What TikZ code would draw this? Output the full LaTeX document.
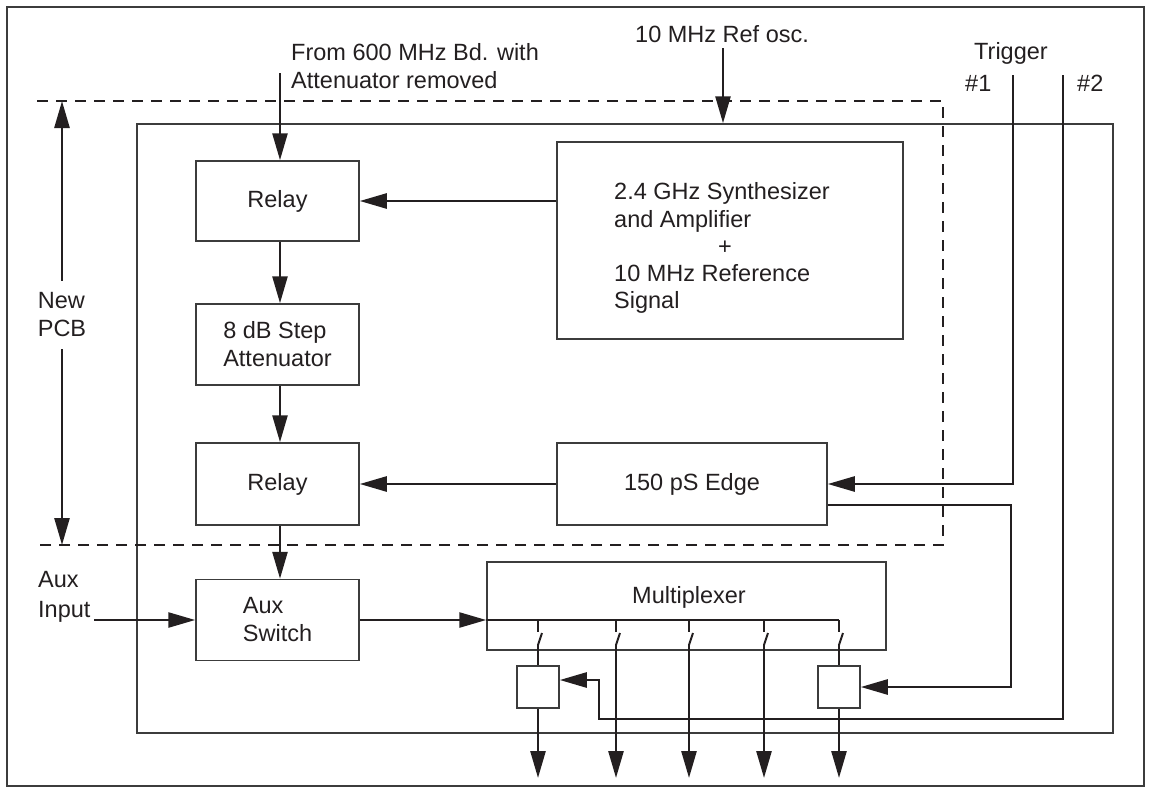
\documentclass[tikz,border=0pt]{standalone}
\usepackage{fontspec}
\setmainfont{Liberation Sans}
\usetikzlibrary{arrows.meta}
\definecolor{ink}{HTML}{231F20}
\definecolor{boxc}{HTML}{3C3C3C}
\begin{document}
\begin{tikzpicture}[x=1pt,y=-1pt,
  every node/.style={font=\fontsize{23.5}{28}\selectfont, text=ink},
  blk/.style={draw=boxc, line width=1.5pt, fill=white, inner sep=0pt, align=left},
  frame/.style={draw=boxc, line width=1.5pt},
  wire/.style={draw=ink, line width=2.6pt},
  arr/.style={wire, -{Triangle[length=27pt,width=15pt]}},
  txt/.style={inner sep=0pt, anchor=base west},
  dashline/.style={draw=ink, line width=1.5pt, dash pattern=on 11pt off 8pt}
]
\useasboundingbox (0,0) rectangle (1151,793);
% outer frame
\draw[frame] (7,7) rectangle (1144,786);
% board
\node[frame, inner sep=0pt, minimum width=976pt, minimum height=609pt] (board) at (625,428.5) {};
% dashed new PCB region
\draw[dashline] (37,101) -- (943,101) -- (943,545) -- (37,545);

% blocks
\node[blk, minimum width=163pt, minimum height=80pt] (relay1) at (277.5,201) {Relay};
\node[blk, minimum width=163pt, minimum height=81pt] (atten) at (277.5,344.5) {8 dB Step\\Attenuator};
\node[blk, minimum width=163pt, minimum height=82pt] (relay2) at (277.5,484) {Relay};
\node[blk, minimum width=163pt, minimum height=81pt] (auxsw) at (277.5,620) {Aux\\Switch};
\node[blk, minimum width=346pt, minimum height=197pt] (synth) at (730,240.5) {};
\node[txt] (s1) at (614,199) {2.4 GHz Synthesizer};
\node[txt] (s2) at (614,227) {and Amplifier};
\node[inner sep=0pt, anchor=base] (s3) at (725,254) {+};
\node[txt] (s4) at (614,281) {10 MHz Reference};
\node[txt] (s5) at (614,308) {Signal};
\node[blk, minimum width=270pt, minimum height=82pt] (edge) at (692,484) {150 pS Edge};
\node[blk, minimum width=399pt, minimum height=88pt] (mux) at (686.5,606) {};
\node[inner sep=0pt, anchor=base] (muxlabel) at (689,603) {Multiplexer};
\node[blk, minimum width=42pt, minimum height=42pt] (sbox1) at (538,687) {};
\node[blk, minimum width=42pt, minimum height=42pt] (sbox2) at (839,687) {};

% labels
\node[txt] (l600a) at (291,60) {From 600 MHz Bd. with};
\node[txt] (l600b) at (291,88) {Attenuator removed};
\node[txt] (lref) at (635,42) {10 MHz Ref osc.};
\node[txt] (ltrig) at (974,59) {Trigger};
\node[txt] (lt1) at (965,91) {\#1};
\node[txt] (lt2) at (1077,91) {\#2};
\node[txt] (lauxa) at (38,587) {Aux};
\node[txt] (lauxb) at (38,617) {Input};

% free ends
\coordinate (from600) at (280,73);
\coordinate (refosc) at (723,48);
\coordinate (t1) at (1013,75);
\coordinate (t2) at (1063,75);
\coordinate (t2ret) at (599,719);
\coordinate (eobend) at (1011,600);
\coordinate (auxin) at (94,620);
\coordinate (pcbtop) at (62,101);
\coordinate (pcbbot) at (62,545);

% connectors
\draw[arr] (from600) -- (from600 |- relay1.north);
\draw[arr] (refosc) -- (refosc |- board.north);
\draw[arr] (synth.west |- relay1.east) -- (relay1.east);
\draw[arr] ([xshift=2.5pt]relay1.south) -- ([xshift=2.5pt]atten.north);
\draw[arr] ([xshift=2.5pt]atten.south) -- ([xshift=2.5pt]relay2.north);
\draw[arr] (edge.west |- relay2.east) -- (relay2.east);
\draw[arr] ([xshift=2.5pt]relay2.south) -- ([xshift=2.5pt]auxsw.north);
\draw[arr] (auxin) -- (auxsw.west);
\draw[arr] (auxsw.east) -- (auxsw.east -| mux.west);
\draw[wire] (auxsw.east -| mux.west) -- (839,620);
\draw[arr] (t1) -- (t1 |- edge.east) -- (edge.east);
\draw[arr] ([yshift=-21pt]edge.east) -| (eobend) |- (sbox2.east);
\draw[arr] (t2) |- (t2ret) |- ([yshift=7pt]sbox1.east);

% switches
\foreach \x in {538,616,689,764,839} {
  \draw[wire] (\x,620) -- (\x,632);
  \draw[wire, line width=2pt] (\x,645) -- (\x+4,633);
}
\draw[wire] (538,645) -- (sbox1.north);
\draw[wire] (839,645) -- (sbox2.north);
\draw[arr] (sbox1.south) -- (538,778);
\draw[arr] (sbox2.south) -- (839,778);
\foreach \x in {616,689,764} {
  \draw[arr] (\x,645) -- (\x,778);
}

% New PCB dimension arrow
\draw[wire, {Triangle[length=27pt,width=15pt]}-{Triangle[length=27pt,width=15pt]}] (pcbtop) -- (pcbbot);
\node[fill=white, align=left, inner xsep=2pt, inner ysep=12pt] (pcb) at (62,315) {New\\PCB};
\end{tikzpicture}
\end{document}
